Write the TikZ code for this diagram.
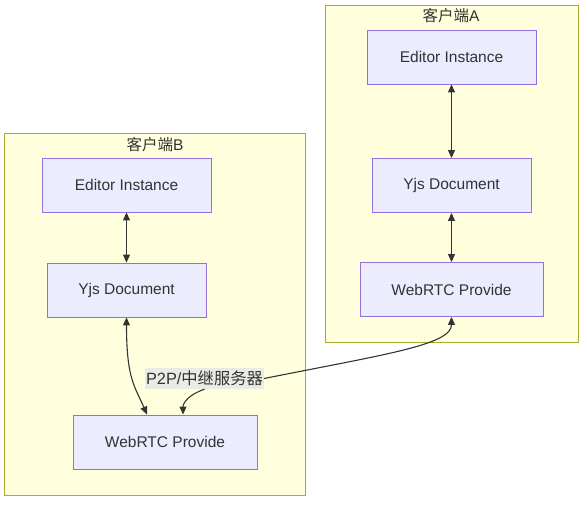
\documentclass[tikz,border=0pt]{standalone}
\usepackage{fontspec}
\setmainfont{Liberation Sans}
\newfontfamily\cjk{Noto Sans CJK SC}
\usetikzlibrary{arrows.meta}

\definecolor{clfill}{HTML}{FFFFDE}
\definecolor{cldraw}{HTML}{AAAA33}
\definecolor{ndfill}{HTML}{ECECFF}
\definecolor{nddraw}{HTML}{9370DB}
\definecolor{ink}{HTML}{333333}

\tikzset{
    txt/.style={text=ink, font=\fontsize{15.5}{18}\selectfont, inner sep=0pt},
    box/.style={txt, draw=nddraw, fill=ndfill, line width=0.9pt, minimum height=54pt},
    cluster/.style={draw=cldraw, fill=clfill, line width=0.9pt},
    link/.style={draw=ink, line width=1.1pt, {Triangle[length=8pt, width=7pt]}-{Triangle[length=8pt, width=7pt]}},
    halflink/.style={draw=ink, line width=1.1pt, -{Triangle[length=8pt, width=7pt]}},
    lbl/.style={txt, font=\fontsize{16.3}{18}\selectfont, fill=black!9, fill opacity=0.85, text opacity=1, inner xsep=1pt, inner ysep=3pt}
}

\begin{document}
\begin{tikzpicture}[x=1pt, y=-1pt]
    \useasboundingbox (0, 0) rectangle (587, 507);

    % Clusters
    \draw[cluster] (325, 5) rectangle (578, 342);
    \node[txt] (titleA) at (451, 16) {{\cjk 客户端}A};
    \draw[cluster] (4, 133) rectangle (305, 495);
    \node[txt] (titleB) at (155, 145) {{\cjk 客户端}B};

    % Client A
    \node[box, minimum width=169pt] (eA) at (451.5, 57) {Editor Instance};
    \node[box, minimum width=159pt] (yA) at (451.5, 185.5) {Yjs Document};
    \node[box, minimum width=183pt] (wA) at (451.5, 289.5) {WebRTC Provide};

    % Client B
    \node[box, minimum width=169pt] (eB) at (126.5, 185) {Editor Instance};
    \node[box, minimum width=159pt] (yB) at (126.5, 290) {Yjs Document};
    \node[box, minimum width=184pt] (wB) at (165, 442) {WebRTC Provide};

    % Edge label
    \node[lbl] (relay) at (204.5, 378.5) {P2P/{\cjk 中继服务器}};

    % Links
    \draw[link] (eA) -- (yA);
    \draw[link] (yA) -- (wA);
    \draw[link] (eB) -- (yB);
    \draw[link] (yB.south) .. controls +(0, 62) and +(-12, -28) .. ([xshift=-18pt]wB.north);
    \draw[halflink] (relay.east) .. controls +(120, -24) and +(0, 28) .. (wA.south);
    \draw[halflink] (relay.south) .. controls +(-15, 5) and +(0, -12) .. ([xshift=18pt]wB.north);
\end{tikzpicture}
\end{document}
